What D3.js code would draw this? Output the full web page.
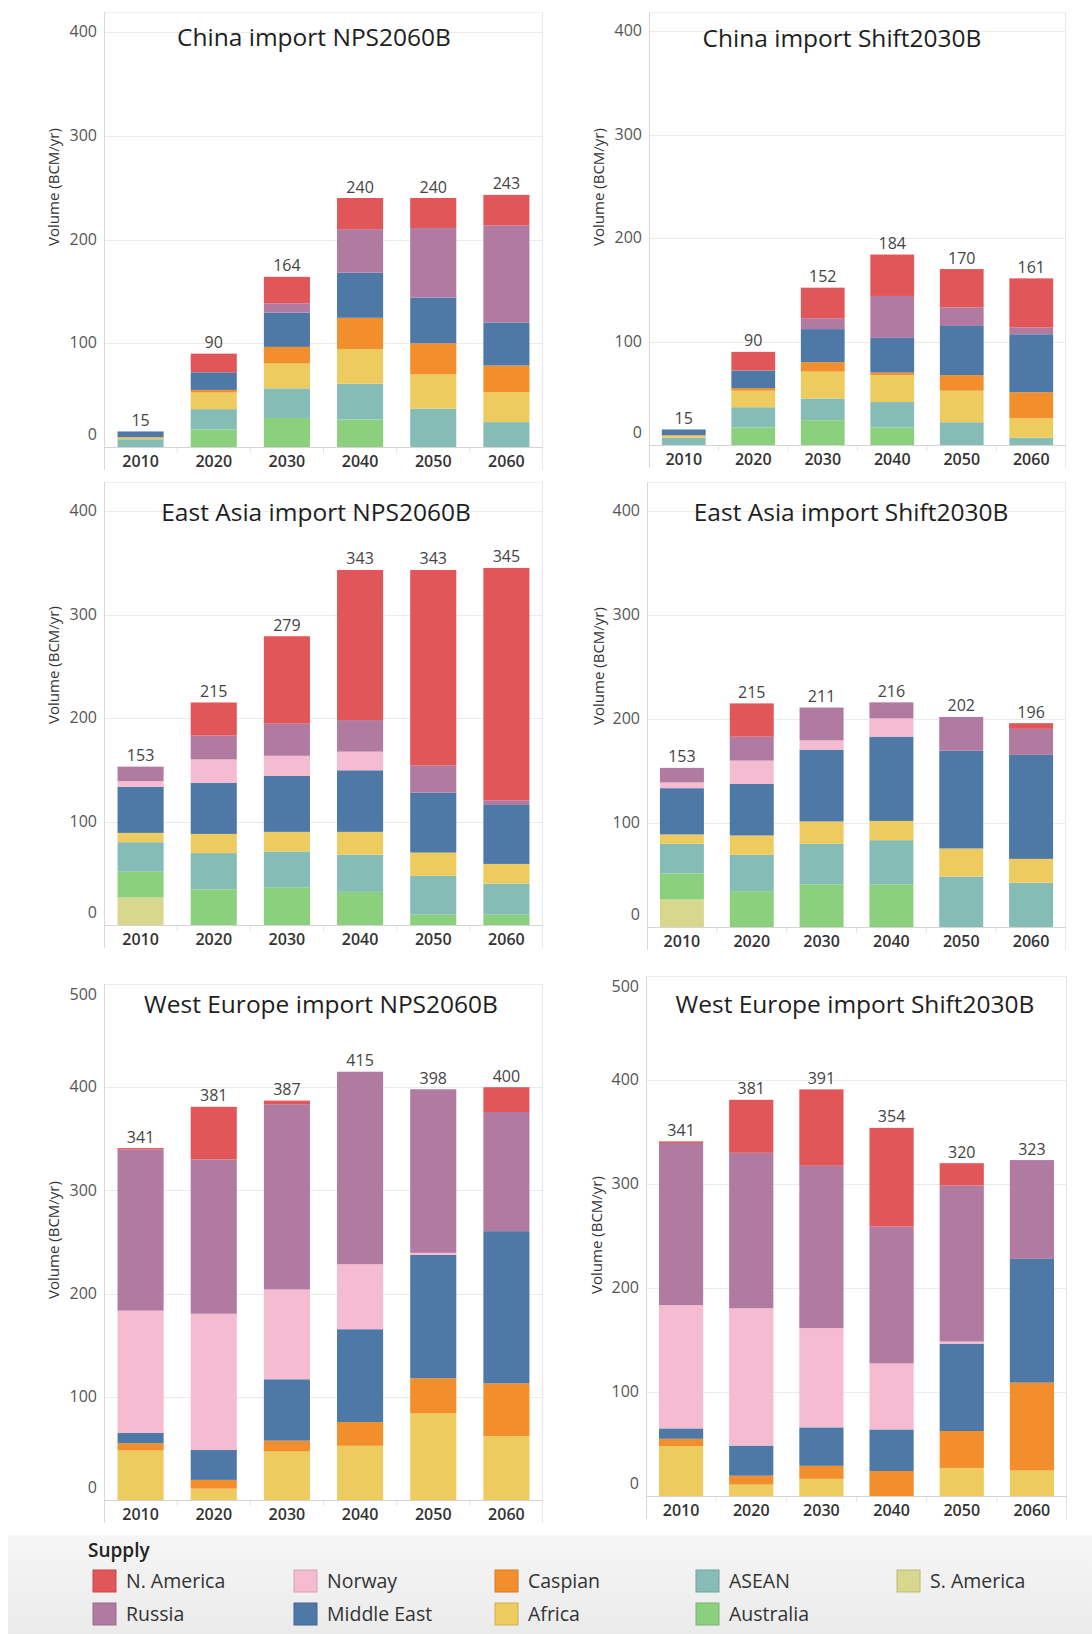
<!DOCTYPE html>
<html>
<head>
<meta charset="utf-8">
<script src="https://cdn.jsdelivr.net/npm/d3@7"></script>
<style>
  html, body { margin: 0; padding: 0; background: #fff; }
  svg { display: block; }
  text { font-family: "Open Sans", "DejaVu Sans", sans-serif; }
</style>
</head>
<body>
<script>
// ---- data -------------------------------------------------------------
const years = ["2010", "2020", "2030", "2040", "2050", "2060"];

// Stacking order, bottom to top
const suppliers = ["S. America", "Australia", "ASEAN", "Africa", "Caspian",
                   "Middle East", "Norway", "Russia", "N. America"];

const supplierColors = ["#d7d78d", "#8bd07d", "#86bcb6", "#eecb5f", "#f28e2b",
                        "#4e79a7", "#f5bbd0", "#b07aa1", "#e15759"];

const panelTitles = ["China import NPS2060B", "China import Shift2030B",
                     "East Asia import NPS2060B", "East Asia import Shift2030B",
                     "West Europe import NPS2060B", "West Europe import Shift2030B"];

// One row per year, values in BCM/yr in supplier order
const chinaNps = [
  [0, 0, 7.5, 1.5, 0.5, 5.5, 0, 0, 0],
  [0, 17, 19.5, 16, 2.5, 17, 0, 0, 18],
  [0, 28, 28.5, 24, 16, 33, 0, 9, 25.5],
  [0, 26.5, 34.5, 33.5, 30, 43.5, 0, 42, 30],
  [0, 0, 37, 33, 30, 44, 0, 67, 29],
  [0, 0, 24, 29, 25.5, 41.5, 0, 93.5, 29.5]
];
const chinaShift = [
  [0, 0, 7, 2, 0.5, 5.5, 0, 0, 0],
  [0, 17, 19.5, 16, 2.5, 17, 0, 0, 18],
  [0, 24, 21, 26, 9, 32, 0, 10.5, 29.5],
  [0, 17, 24.5, 26, 2.5, 33.5, 0, 40.5, 40],
  [0, 0, 22, 30.5, 15, 47.5, 0, 18, 37],
  [0, 0, 7, 19, 25, 56, 0, 6.5, 47.5]
];
const eastAsiaNps = [
  [26.5, 25, 28.5, 9, 0, 44.5, 5.5, 14, 0],
  [0, 34.5, 35, 18.5, 0, 49.5, 22.5, 23, 32],
  [0, 36.5, 34.5, 19, 0, 54, 19.5, 31, 84.5],
  [0, 32, 36, 22, 0, 59.5, 18, 30.5, 145],
  [0, 10, 37.5, 22.5, 0, 58, 0, 26, 189],
  [0, 10, 30, 19, 0, 57, 0, 4.5, 224.5]
];
const eastAsiaShift = [
  [26.5, 25, 28.5, 9, 0, 44.5, 5.5, 14, 0],
  [0, 34.5, 35, 18.5, 0, 49.5, 22.5, 23, 32],
  [0, 41, 39, 21.5, 0, 69, 9, 31.5, 0],
  [0, 41, 42.5, 18.5, 0, 81, 17.5, 15.5, 0],
  [0, 0, 48.5, 27, 0, 94, 0, 32.5, 0],
  [0, 0, 42.5, 23, 0, 100, 0, 25, 5.5]
];
const westEuropeNps = [
  [0, 0, 0, 48, 7, 10, 118.5, 156, 1.5],
  [0, 0, 0, 11, 8.5, 29, 132, 149.5, 51],
  [0, 0, 0, 47, 10.5, 59.5, 87, 179.5, 3.5],
  [0, 0, 0, 52.5, 23, 90, 63, 186.5, 0],
  [0, 0, 0, 84, 34, 119.5, 2, 158.5, 0],
  [0, 0, 0, 62, 51, 147.5, 0, 115.5, 24]
];
const westEuropeShift = [
  [0, 0, 0, 48, 7, 10, 118.5, 156, 1.5],
  [0, 0, 0, 11, 8.5, 29, 132, 149.5, 51],
  [0, 0, 0, 16.5, 12.5, 37, 95.5, 156, 73.5],
  [0, 0, 0, 0, 24, 40, 63.5, 131.5, 95],
  [0, 0, 0, 27, 35.5, 84, 2, 150, 21.5],
  [0, 0, 0, 24.5, 84.5, 119, 0, 95, 0]
];

const panelData = [chinaNps, chinaShift, eastAsiaNps, eastAsiaShift, westEuropeNps, westEuropeShift];

// ---- layout -----------------------------------------------------------
// x0/x1: plot edges, yBase: pixel of 0, yRef: pixel of refValue
const layout = [
  { x0: 104, x1: 543, yBase: 447, refValue: 400, yRef: 32, paneTop: 12, titleX: 314, titleY: 37, labelX: 54, labelY: 187 },
  { x0: 649, x1: 1066, yBase: 445, refValue: 400, yRef: 31, paneTop: 12, titleX: 842, titleY: 38, labelX: 599, labelY: 187 },
  { x0: 104, x1: 543, yBase: 925, refValue: 400, yRef: 511, paneTop: 482, titleX: 316, titleY: 512, labelX: 54, labelY: 665 },
  { x0: 647, x1: 1066, yBase: 927, refValue: 400, yRef: 511, paneTop: 482, titleX: 851, titleY: 512, labelX: 599, labelY: 666 },
  { x0: 104, x1: 543, yBase: 1500, refValue: 500, yRef: 984, paneTop: 984, titleX: 321, titleY: 1004, labelX: 54, labelY: 1240 },
  { x0: 646, x1: 1067, yBase: 1496, refValue: 500, yRef: 976, paneTop: 976, titleX: 855, titleY: 1004, labelX: 597, labelY: 1235 }
];

const W = 1092, H = 1634;
const svg = d3.select("body").append("svg").attr("width", W).attr("height", H);
svg.append("rect").attr("width", W).attr("height", H).attr("fill", "#fff");

const colorOf = d3.scaleOrdinal().domain(suppliers).range(supplierColors);

panelData.forEach((rows, i) => {
  const p = layout[i];
  const g = svg.append("g");

  const records = years.map((yr, j) => {
    const o = { year: yr };
    suppliers.forEach((s, k) => { o[s] = rows[j][k]; });
    return o;
  });
  const series = d3.stack().keys(suppliers)(records);

  const x = d3.scaleBand().domain(years).range([p.x0, p.x1])
    .paddingInner(0.37).paddingOuter(0.185);
  const y = d3.scaleLinear().domain([0, p.refValue]).range([p.yBase, p.yRef]);
  const ticks = d3.range(0, p.refValue + 1, 100);

  // top edge and gridlines
  g.append("line").attr("x1", p.x0).attr("x2", p.x1)
    .attr("y1", p.paneTop + 0.5).attr("y2", p.paneTop + 0.5)
    .attr("stroke", "#f1f1f1");
  g.selectAll("line.grid").data(ticks.filter(t => t > 0)).join("line")
    .attr("class", "grid")
    .attr("x1", p.x0).attr("x2", p.x1)
    .attr("y1", d => Math.round(y(d)) + 0.5).attr("y2", d => Math.round(y(d)) + 0.5)
    .attr("stroke", "#ebebeb");

  // frame lines: left axis, right border, baseline
  const headerBottom = p.yBase + 23;
  g.append("line").attr("x1", p.x0 + 0.5).attr("x2", p.x0 + 0.5)
    .attr("y1", p.paneTop).attr("y2", headerBottom).attr("stroke", "#d9d9d9");
  g.append("line").attr("x1", p.x1 - 0.5).attr("x2", p.x1 - 0.5)
    .attr("y1", p.paneTop).attr("y2", headerBottom).attr("stroke", "#e6e6e6");

  // stacked bars
  g.selectAll("g.layer").data(series).join("g")
    .attr("class", "layer")
    .attr("fill", d => colorOf(d.key))
    .selectAll("rect").data(d => d.filter(v => v[1] - v[0] > 0)).join("rect")
    .attr("x", d => x(d.data.year))
    .attr("width", x.bandwidth())
    .attr("y", d => y(d[1]))
    .attr("height", d => y(d[0]) - y(d[1]));

  g.append("line").attr("x1", p.x0).attr("x2", p.x1)
    .attr("y1", p.yBase + 0.5).attr("y2", p.yBase + 0.5).attr("stroke", "#d4d4d4");

  // small separators between year headers
  g.selectAll("line.sep").data(years.slice(1)).join("line")
    .attr("class", "sep")
    .attr("x1", d => x(d) - x.step() * x.paddingInner() / 2)
    .attr("x2", d => x(d) - x.step() * x.paddingInner() / 2)
    .attr("y1", p.yBase + 1).attr("y2", p.yBase + 6)
    .attr("stroke", "#e4e4e4");

  // total labels
  g.selectAll("text.total").data(rows).join("text")
    .attr("class", "total")
    .attr("x", (d, j) => x(years[j]) + x.bandwidth() / 2)
    .attr("y", d => y(d3.sum(d)) - 5.5)
    .attr("text-anchor", "middle")
    .attr("font-size", 16)
    .attr("fill", "#444")
    .text(d => d3.format("d")(Math.round(d3.sum(d))));

  // value axis
  const yAxis = g.append("g")
    .attr("transform", `translate(${p.x0},0)`)
    .call(d3.axisLeft(y).tickValues(ticks).tickSize(0).tickPadding(7).tickFormat(d3.format("d")));
  yAxis.select(".domain").remove();
  yAxis.attr("font-family", null).attr("font-size", null);
  yAxis.selectAll(".tick").attr("transform", d => {
    const yy = Math.max(Math.min(y(d), p.yBase - 12), p.paneTop + 11);
    return `translate(0,${yy})`;
  });
  yAxis.selectAll("text").attr("font-size", 16).attr("fill", "#555");

  // year axis
  const xAxis = g.append("g")
    .attr("transform", `translate(0,${p.yBase})`)
    .call(d3.axisBottom(x).tickSize(0).tickPadding(9));
  xAxis.select(".domain").remove();
  xAxis.attr("font-family", null).attr("font-size", null);
  xAxis.selectAll("text").attr("font-size", 16).attr("font-weight", 600).attr("fill", "#333");

  // axis title
  g.append("text")
    .attr("transform", `translate(${p.labelX},${p.labelY}) rotate(-90)`)
    .attr("text-anchor", "middle").attr("dy", "0.35em")
    .attr("font-size", 15).attr("fill", "#333")
    .text("Volume (BCM/yr)");

  // panel title
  g.append("text")
    .attr("x", p.titleX).attr("y", p.titleY).attr("dy", "0.36em")
    .attr("text-anchor", "middle")
    .attr("font-size", 24.5).attr("fill", "#1e1e1e")
    .text(panelTitles[i]);
});

// ---- legend -----------------------------------------------------------
const defs = svg.append("defs");
const grad = defs.append("linearGradient").attr("id", "legendBg")
  .attr("x1", 0).attr("x2", 0).attr("y1", 0).attr("y2", 1);
grad.append("stop").attr("offset", "0%").attr("stop-color", "#f6f6f6");
grad.append("stop").attr("offset", "100%").attr("stop-color", "#ebebeb");

const legend = svg.append("g");
legend.append("rect").attr("x", 8).attr("y", 1535).attr("width", W - 8).attr("height", H - 1535)
  .attr("fill", "url(#legendBg)");
legend.append("text").attr("x", 88).attr("y", 1550).attr("dy", "0.36em")
  .attr("font-size", 19).attr("font-weight", 600).attr("fill", "#222")
  .text("Supply");

const legendOrder = suppliers.slice().reverse();
const item = legend.selectAll("g.item").data(legendOrder).join("g")
  .attr("class", "item")
  .attr("transform", (d, k) => `translate(${93 + 201 * Math.floor(k / 2)},${1570 + 33 * (k % 2)})`);
item.append("rect").attr("width", 23).attr("height", 22)
  .attr("fill", d => colorOf(d))
  .attr("stroke", d => d3.color(colorOf(d)).darker(0.4))
  .attr("stroke-width", 1);
item.append("text").attr("x", 33).attr("y", 11).attr("dy", "0.36em")
  .attr("font-size", 19.5).attr("fill", "#333")
  .text(d => d);
</script>
</body>
</html>
